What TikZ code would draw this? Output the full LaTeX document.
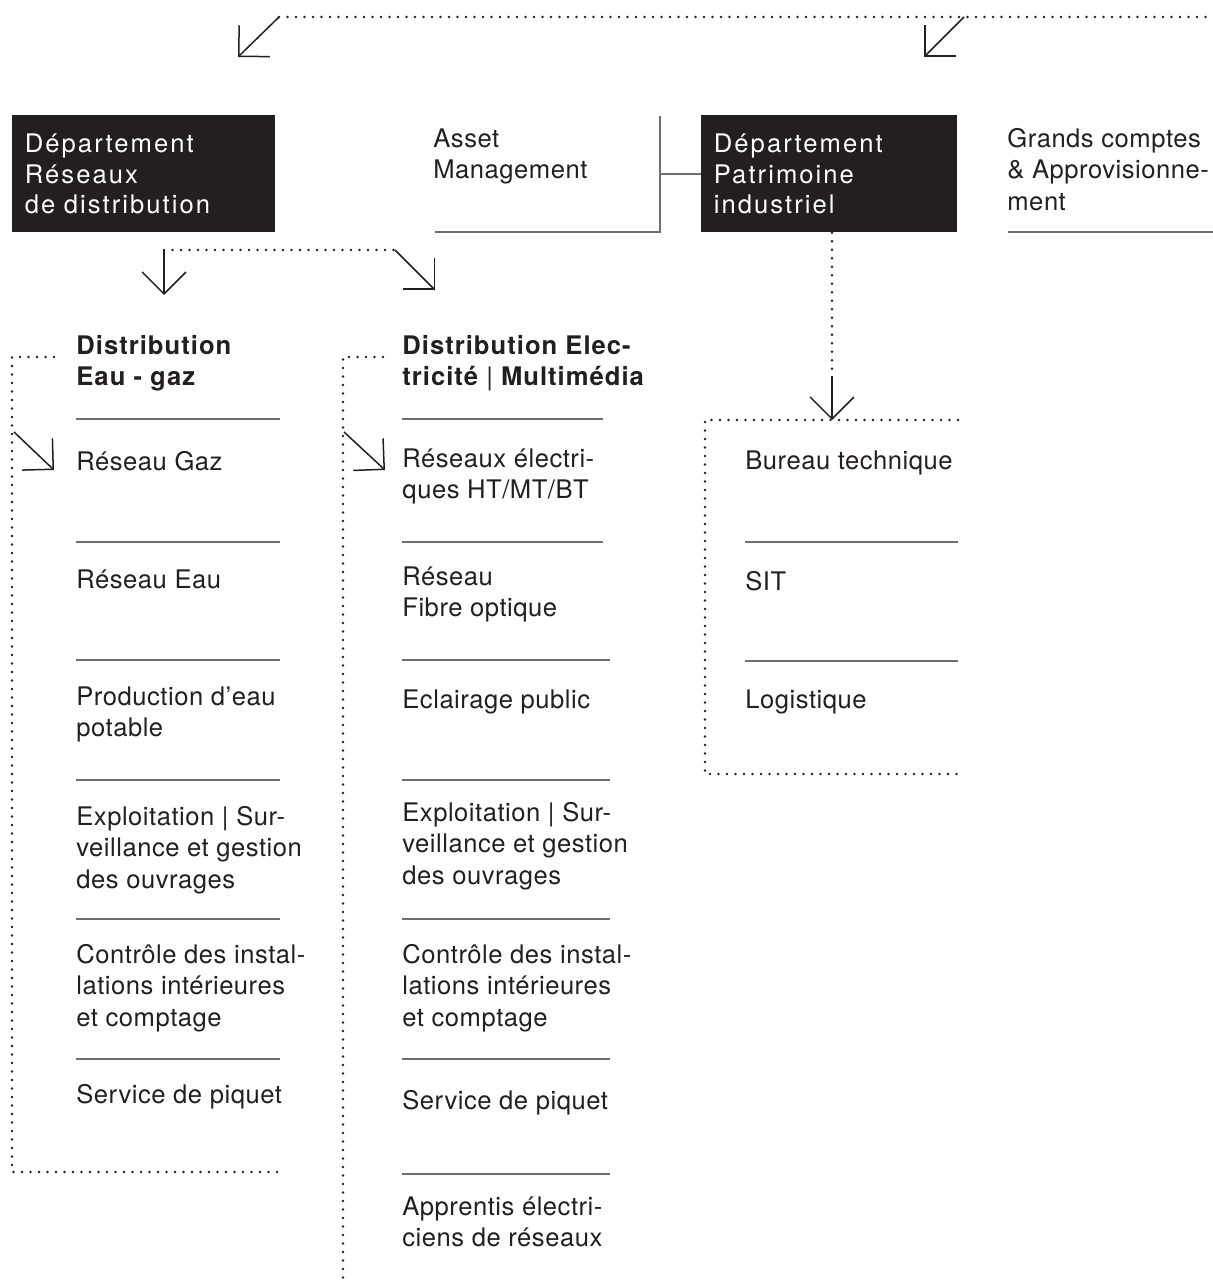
\documentclass[tikz,border=0pt]{standalone}
\usepackage{fontspec}
\setmainfont{TeX Gyre Heros}[LetterSpace=2]
\usetikzlibrary{arrows.meta}
\definecolor{inkc}{HTML}{231F20}
\definecolor{sepc}{HTML}{6D6E71}
\tikzset{
  lbl/.style={anchor=north west, inner sep=0pt, align=left, text=inkc,
    font=\fontsize{12.8}{15.75}\selectfont, execute at begin node=\strut, yshift=11.025pt},
  ttl/.style={lbl, font=\fontsize{12.8}{15.75}\selectfont\bfseries\addfontfeatures{LetterSpace=4}},
  dept/.style={anchor=north west, fill=inkc, text=white, inner xsep=6.25pt, inner ysep=0pt,
    minimum width=131.5pt, minimum height=58.5pt, text width=119pt, align=left,
    font=\fontsize{12.8}{15.25}\selectfont\addfontfeatures{LetterSpace=8}},
  sepln/.style={draw=sepc, line width=0.75pt},
  dotln/.style={draw=inkc, line width=1.4pt, line cap=round, dash pattern=on 0pt off 4.25pt},
  arrowln/.style={draw=inkc, line width=0.75pt, -{Straight Barb[angle=90:15.5pt]}}
}
\begin{document}
\begin{tikzpicture}[x=0.5pt, y=-0.5pt]
  \useasboundingbox (0,0) rectangle (1213,1283);

  \node [dept] (rd) at (12,115) {Département\\Réseaux\\de distribution};
  \node [dept, minimum width=128pt, text width=115.5pt] (pi) at (701,115) {Département\\Patrimoine\\industriel};
  \node [lbl] (am) at (433,150) {Asset\\Management};
  \node [lbl] (gc) at (1007,150) {Grands comptes\\\& Approvisionne-\\ment};

  \node [ttl] (eg) at (76,357) {Distribution\\Eau - gaz};
  \node [lbl] (eg1) at (76,470) {Réseau Gaz};
  \node [lbl] (eg2) at (76,588) {Réseau Eau};
  \node [lbl] (eg3) at (76,708) {Production d’eau\\potable};
  \node [lbl] (eg4) at (76,828) {Exploitation | Sur-\\veillance et gestion\\des ouvrages};
  \node [lbl] (eg5) at (76,966) {Contrôle des instal-\\lations intérieures\\et comptage};
  \node [lbl] (eg6) at (76,1103) {Service de piquet};

  \node [ttl] (em) at (402,357) {Distribution Elec-\\tricité {\mdseries|} Multimédia};
  \node [lbl] (em1) at (402,470) {Réseaux électri-\\ques HT/MT/BT};
  \node [lbl] (em2) at (402,588) {Réseau\\Fibre optique};
  \node [lbl] (em3) at (402,708) {Eclairage public};
  \node [lbl] (em4) at (402,824) {Exploitation | Sur-\\veillance et gestion\\des ouvrages};
  \node [lbl] (em5) at (402,966) {Contrôle des instal-\\lations intérieures\\et comptage};
  \node [lbl] (em6) at (402,1109) {Service de piquet};
  \node [lbl] (em7) at (402,1218) {Apprentis électri-\\ciens de réseaux};

  \node [lbl] (pi1) at (745,469) {Bureau technique};
  \node [lbl] (pi2) at (745,590) {SIT};
  \node [lbl] (pi3) at (745,708) {Logistique};

  \coordinate (amL) at (435,232);
  \coordinate (amR) at (660,232);
  \coordinate (amT) at (660,116);
  \draw [sepln] (amL) -- (amR) -- (amT);
  \draw [sepln] (pi.west) -- (pi.west -| amR);
  \draw [sepln] (1008,232) -- (1213,232);

  \foreach \y in {419,542,660,780,919,1059}
    \draw [sepln] (76,\y) -- (280,\y);
  \foreach \y/\r in {419/603,542/603,660/610,780/610,919/610,1059/610,1174/610}
    \draw [sepln] (402,\y) -- (\r,\y);
  \foreach \y in {542,661}
    \draw [sepln] (745,\y) -- (958,\y);

  \coordinate (t0) at (279,17);
  \coordinate (t1) at (964,17);
  \draw [dotln] (t0) -- (1213,17);
  \draw [arrowln] (t0) -- (238,57);
  \draw [arrowln] (t1) -- (924,57);

  \coordinate (rdA) at (164,250);
  \coordinate (rdB) at (395,250);
  \draw [dotln] (rdA) -- (rdB);
  \draw [arrowln] (rdA) -- (164,295);
  \draw [arrowln] (rdB) -- (435,290);

  \draw [dotln] (54,357) -- (12,357) -- (12,1172) -- (280,1172);
  \draw [arrowln] (14,432) -- (54,470);
  \draw [dotln] (383,357) -- (343,357) -- (343,1283);
  \draw [arrowln] (344,432) -- (385,470);

  \draw [dotln] (pi.south -| 832,0) -- (832,370);
  \draw [arrowln] (832,376) -- (832,420);
  \draw [dotln] (958,420) -- (705,420) -- (705,774) -- (958,774);
\end{tikzpicture}
\end{document}
